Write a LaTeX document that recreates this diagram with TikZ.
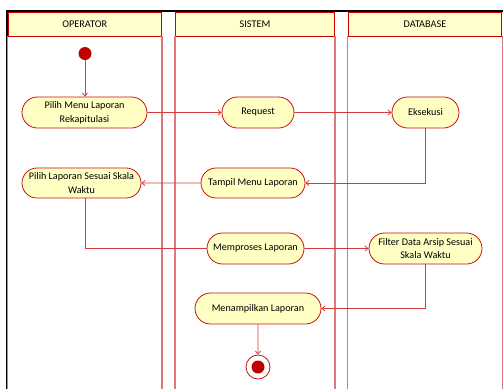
\documentclass[tikz,border=0pt]{standalone}
\usepackage{fontspec}
\setmainfont{Carlito}
\usetikzlibrary{arrows.meta,shapes.misc}
\definecolor{hdred}{RGB}{204,0,0}
\definecolor{laneln}{RGB}{222,120,120}
\definecolor{actred}{RGB}{200,16,16}
\definecolor{actfill}{RGB}{255,255,196}
\definecolor{hdfill}{RGB}{255,255,204}
\definecolor{flowred}{RGB}{210,60,60}
\definecolor{dotred}{RGB}{192,0,0}
\begin{document}
\begin{tikzpicture}[x=1bp,y=-1bp,
  lanehead/.style={draw=hdred, fill=hdfill, line width=0.9bp, minimum height=24bp, inner sep=0pt, font=\fontsize{10.3}{12}\selectfont},
  laneline/.style={draw=laneln, line width=1.3bp},
  act/.style={rounded rectangle, draw=actred, fill=actfill, line width=0.8bp, minimum height=31bp, inner xsep=2bp, inner ysep=1bp, align=center, font=\fontsize{10.2}{14}\selectfont},
  flow/.style={draw=flowred, line width=0.8bp, -{Straight Barb[length=3bp,width=5bp]}},
  flowplain/.style={draw=flowred, line width=0.8bp},
  startdot/.style={circle, fill=dotred, minimum size=13bp, inner sep=0pt},
  enddot/.style={circle, draw=actred, fill=white, line width=0.8bp, minimum size=24bp, inner sep=0pt},
  endin/.style={circle, fill=dotred, minimum size=13bp, inner sep=0pt}
]
\useasboundingbox (0,0) rectangle (503,389);
% frame
\draw[black, line width=2bp] (7,389) -- (7,11) -- (503,11);
% lane headers
\node[lanehead, minimum width=153.5bp] (h1) at (84.75,24) {OPERATOR};
\node[lanehead, minimum width=159bp] (h2) at (255,24) {SISTEM};
\node[lanehead, minimum width=153.5bp] (h3) at (425,24) {DATABASE};
\coordinate (bot) at (0,389);
\foreach \h in {h1,h2,h3}{
  \draw[laneline] (\h.south west) -- (\h.south west |- bot);
  \draw[laneline] (\h.south east) -- (\h.south east |- bot);
}
% nodes
\node[startdot] (start) at (85,53.5) {};
\node[act, minimum width=129bp] (a1) at (84.5,112.5) {Pilih Menu Laporan\\Rekapitulasi};
\node[act, minimum width=76bp] (a2) at (258,112.5) {Request};
\node[act, minimum width=71bp] (a3) at (425.5,112.5) {Eksekusi};
\node[act, minimum width=123bp, minimum height=30bp] (a4) at (81.5,183) {Pilih Laporan Sesuai Skala\\Waktu};
\node[act, minimum width=108bp, minimum height=30bp] (a5) at (253,183) {Tampil Menu Laporan};
\node[act, minimum width=101bp] (a6) at (255.5,248.5) {Memproses Laporan};
\node[act, minimum width=117bp] (a7) at (425.5,248.5) {Filter Data Arsip Sesuai\\Skala Waktu};
\node[act, minimum width=130bp] (a8) at (258,308.5) {Menampilkan Laporan};
\node[enddot] (fin) at (258,367) {};
\node[endin] (finin) at (fin) {};
% connectors
\draw[flow] (start) -- (start |- a1.north);
\draw[flow] (a1) -- (a2);
\draw[flow] (a2) -- (a3);
\draw[flow] (a3.south) |- (a5.east);
\draw[flow] (a5) -- (a4);
\draw[flowplain] (a4.south -| start) |- (a6.west);
\draw[flow] (a6) -- (a7);
\draw[flow] (a7.south) |- (a8.east);
\draw[flow] (a8) -- (fin);
\end{tikzpicture}
\end{document}
